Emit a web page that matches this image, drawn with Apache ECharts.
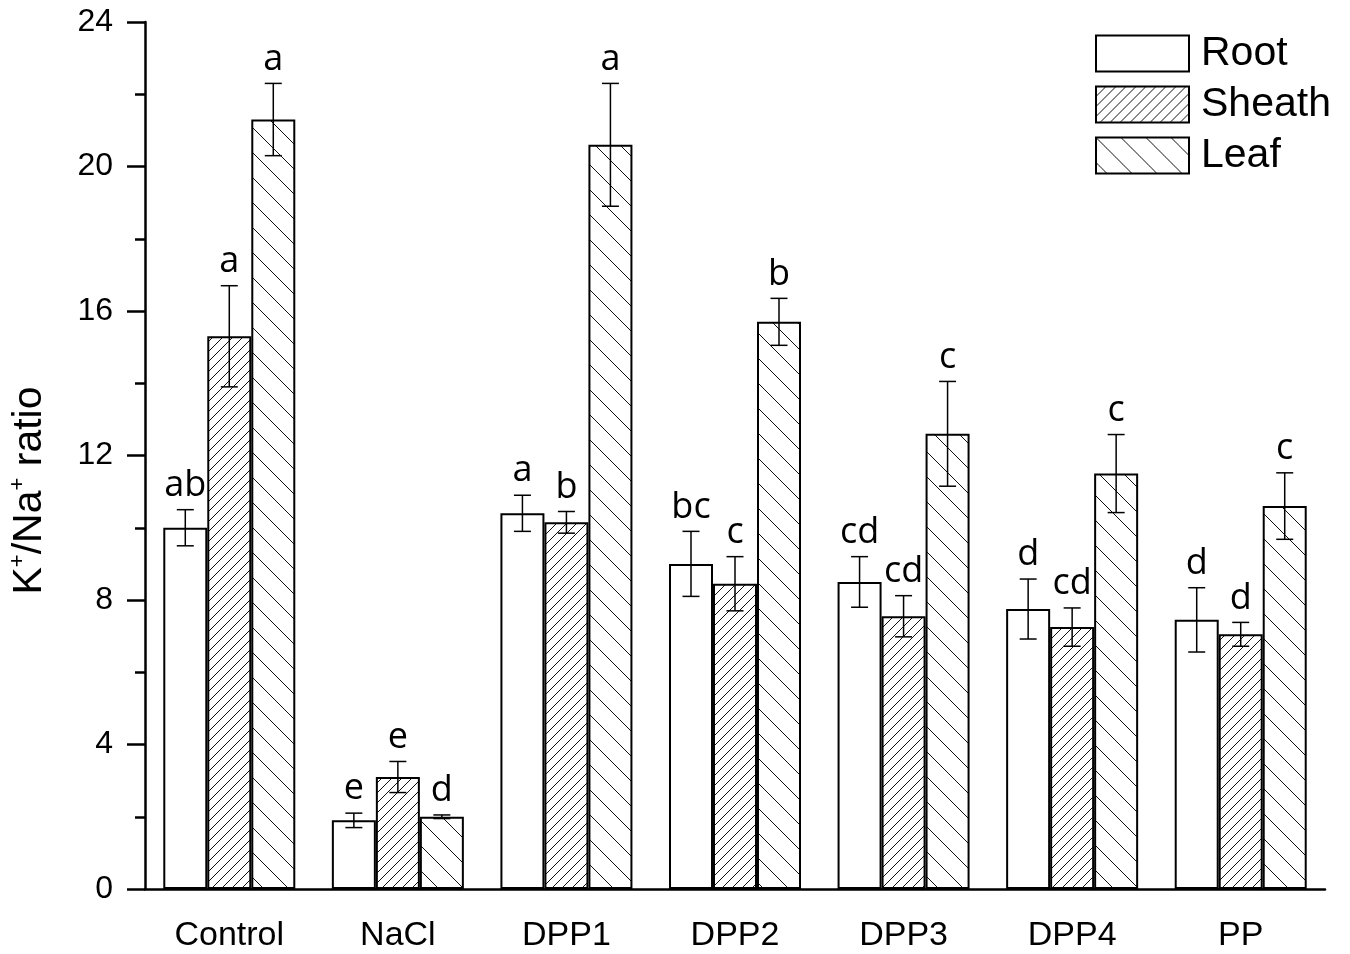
<!DOCTYPE html>
<html>
<head>
<meta charset="utf-8">
<script src="https://cdn.jsdelivr.net/npm/echarts@6/dist/echarts.min.js"></script>
<style>
  html, body { margin: 0; padding: 0; background: #fff; }
  #chart { width: 1350px; height: 954px; }
</style>
</head>
<body>
<div id="chart"></div>
<script>
// data
const categories = ['Control', 'NaCl', 'DPP1', 'DPP2', 'DPP3', 'DPP4', 'PP'];
const root = [10.0, 1.9, 10.4, 9.0, 8.5, 7.75, 7.45];
const rootErr = [0.5, 0.2, 0.5, 0.9, 0.7, 0.83, 0.89];
const rootSig = ['ab', 'e', 'a', 'bc', 'cd', 'd', 'd'];
const sheath = [15.3, 3.1, 10.15, 8.45, 7.55, 7.25, 7.05];
const sheathErr = [1.4, 0.43, 0.3, 0.75, 0.57, 0.53, 0.33];
const sheathSig = ['a', 'e', 'b', 'c', 'cd', 'cd', 'd'];
const leaf = [21.3, 2.0, 20.6, 15.7, 12.6, 11.5, 10.6];
const leafErr = [1.0, 0.05, 1.7, 0.65, 1.45, 1.08, 0.92];
const leafSig = ['a', 'd', 'a', 'b', 'c', 'c', 'c'];
const yTicks = [0, 4, 8, 12, 16, 20, 24];

const AXIS_FONT = '"Liberation Sans", Arial, sans-serif';
const SIG_FONT = '"Open Sans", "Liberation Sans", sans-serif';
const BAR_W = 44;

// hatch tile: dir '/' or '\'
const makeHatch = (size, dir) => {
  const c = document.createElement('canvas');
  c.width = size;
  c.height = size;
  const g = c.getContext('2d');
  g.fillStyle = '#fff';
  g.fillRect(0, 0, size, size);
  g.strokeStyle = '#111';
  g.lineWidth = 1;
  g.beginPath();
  for (let k = -1; k <= 1; k++) {
    if (dir === '/') {
      g.moveTo(k * size, size);
      g.lineTo(k * size + size, 0);
    } else {
      g.moveTo(k * size, 0);
      g.lineTo(k * size + size, size);
    }
  }
  g.stroke();
  return c;
};

const sheathFill = { image: makeHatch(10, '/'), repeat: 'repeat' };
const leafFill = { image: makeHatch(25, '\\'), repeat: 'repeat' };

const groups = [
  { name: 'Root', values: root, err: rootErr, sig: rootSig, color: '#fff' },
  { name: 'Sheath', values: sheath, err: sheathErr, sig: sheathSig, color: sheathFill },
  { name: 'Leaf', values: leaf, err: leafErr, sig: leafSig, color: leafFill },
];

const barSeries = groups.map(g => ({
  name: g.name,
  type: 'bar',
  data: g.values,
  barWidth: BAR_W,
  barGap: '0%',
  itemStyle: { color: g.color, borderColor: '#000', borderWidth: 2 },
  emphasis: { disabled: true },
}));

const errSeries = groups.map((g, gi) => ({
  type: 'custom',
  name: g.name + ' err',
  data: g.values.map((v, i) => [i, v, g.err[i]]),
  z: 5,
  renderItem: (params, api) => {
    const idx = api.value(0);
    const v = api.value(1);
    const e = api.value(2);
    const x = api.coord([idx, v])[0] + (gi - 1) * BAR_W;
    const top = api.coord([idx, v + e])[1];
    const bot = api.coord([idx, v - e])[1];
    const cap = 8.5;
    const ls = { stroke: '#000', lineWidth: 1.5 };
    return {
      type: 'group',
      children: [
        { type: 'line', shape: { x1: x, y1: top, x2: x, y2: bot }, style: ls },
        { type: 'line', shape: { x1: x - cap, y1: top, x2: x + cap, y2: top }, style: ls },
        { type: 'line', shape: { x1: x - cap, y1: bot, x2: x + cap, y2: bot }, style: ls },
        {
          type: 'text',
          x: x,
          y: top - 6,
          style: {
            text: g.sig[params.dataIndex],
            fill: '#000',
            font: '36px ' + SIG_FONT,
            align: 'center',
            verticalAlign: 'bottom',
          },
        },
      ],
    };
  },
}));

const chart = echarts.init(document.getElementById('chart'));

chart.setOption({
  animation: false,
  backgroundColor: '#fff',
  grid: { left: 145, right: 25, top: 22, bottom: 65, outerBoundsMode: 'none', containLabel: false },
  legend: {
    data: groups.map(g => g.name),
    orient: 'vertical',
    left: 1095,
    top: 33,
    padding: 0,
    icon: 'rect',
    itemWidth: 93,
    itemHeight: 36,
    itemGap: 10,
    selectedMode: false,
    textStyle: { fontSize: 41, fontFamily: AXIS_FONT, color: '#000', padding: [0, 0, 0, 7] },
  },
  xAxis: [
    {
      type: 'category',
      data: categories,
      axisLine: { lineStyle: { color: '#000', width: 2.5 } },
      axisTick: { alignWithLabel: true, length: 18, lineStyle: { color: '#000', width: 2.5 } },
      axisLabel: { fontSize: 34, fontFamily: AXIS_FONT, color: '#000', margin: 30 },
    },
    {
      type: 'category',
      data: categories,
      position: 'bottom',
      axisLine: { show: false },
      axisTick: { length: 9, lineStyle: { color: '#000', width: 2.5 } },
      axisLabel: { show: false },
    },
  ],
  yAxis: {
    type: 'value',
    min: 0,
    max: 24,
    interval: 4,
    name: '{b|K}{s|+}{b|/Na}{s|+}{b| ratio}',
    nameLocation: 'middle',
    nameGap: 92,
    nameTextStyle: {
      padding: [0, 70, 0, 0],
      rich: {
        b: { fontSize: 41, fontFamily: AXIS_FONT, color: '#000', lineHeight: 46 },
        s: { fontSize: 22, fontFamily: AXIS_FONT, color: '#000', verticalAlign: 'top', lineHeight: 46 },
      },
    },
    axisLine: { show: true, lineStyle: { color: '#000', width: 2.5 } },
    axisTick: { show: true, length: 18, lineStyle: { color: '#000', width: 2.5 } },
    minorTick: { show: true, splitNumber: 2, length: 10, lineStyle: { color: '#000', width: 2.5 } },
    splitLine: { show: false },
    axisLabel: {
      fontSize: 32,
      fontFamily: AXIS_FONT,
      color: '#000',
      margin: 32,
      formatter: v => (yTicks.includes(v) ? String(v) : ''),
    },
  },
  series: [...barSeries, ...errSeries],
});
</script>
</body>
</html>
